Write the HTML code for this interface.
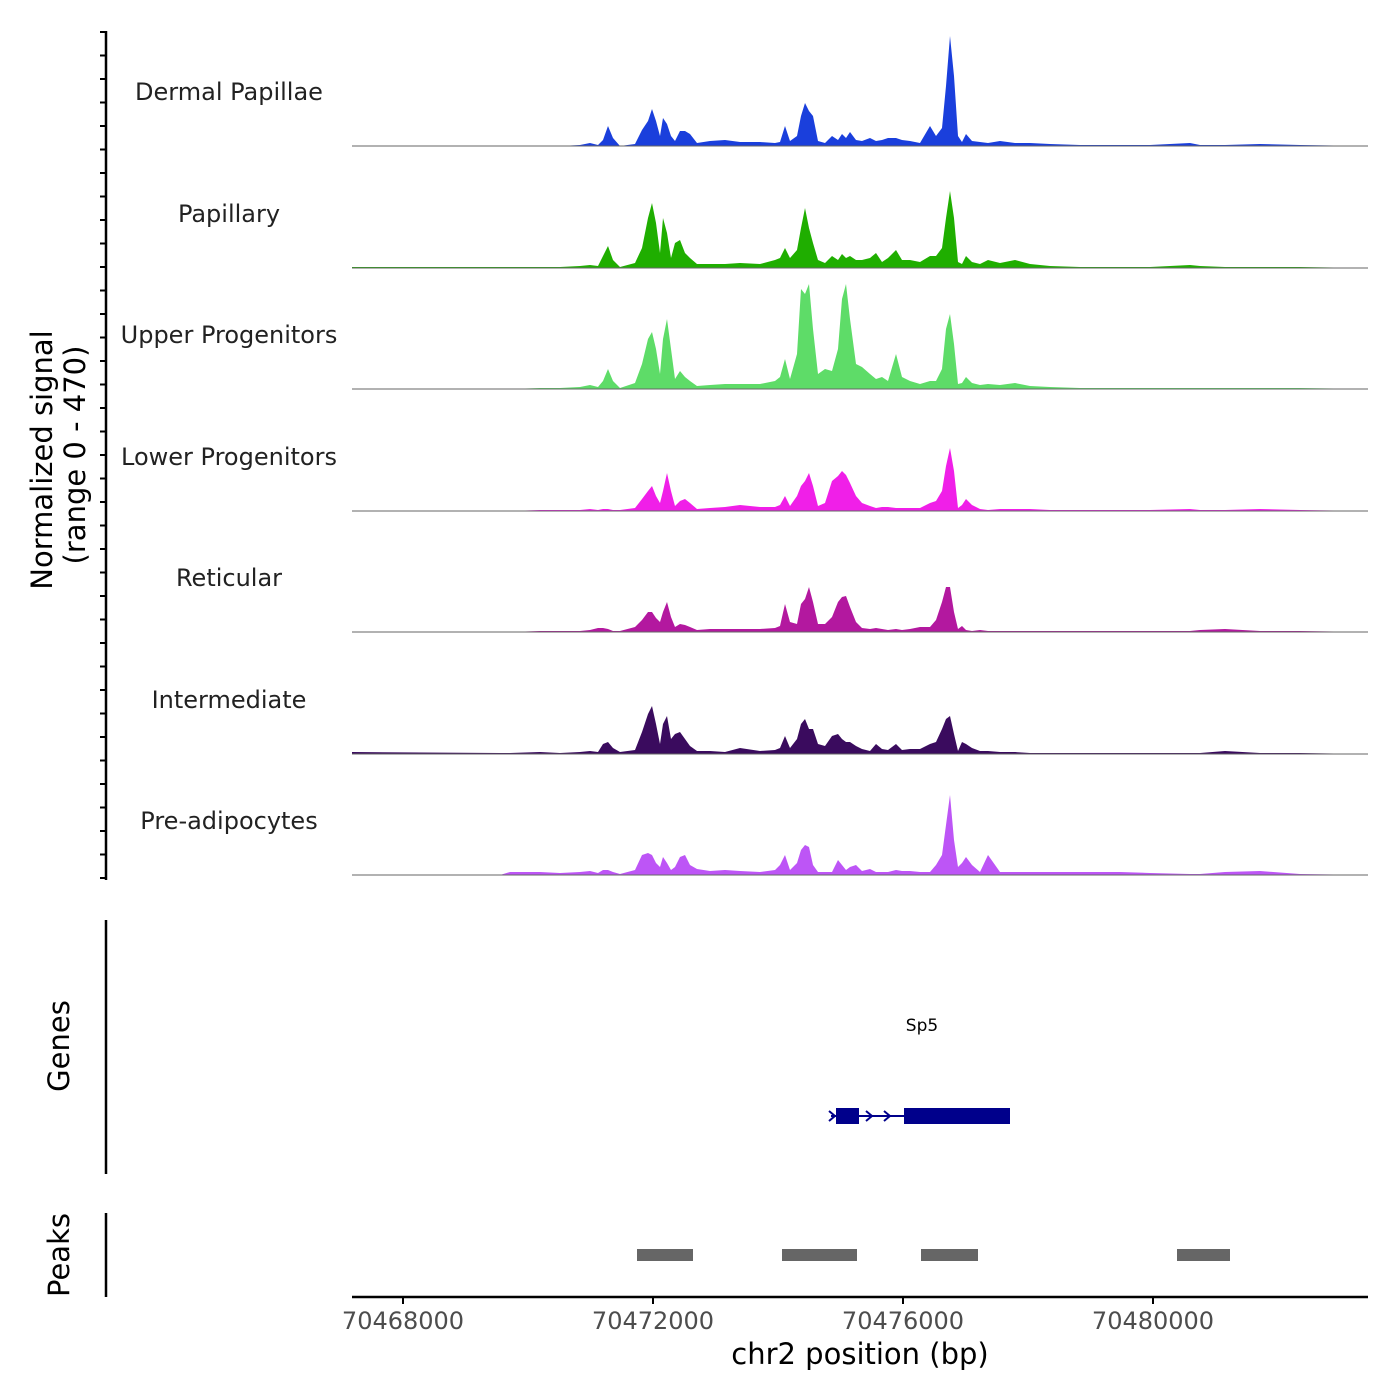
<!DOCTYPE html>
<html><head><meta charset="utf-8">
<style>
html,body{margin:0;padding:0;background:#fff;}
svg{display:block;font-family:"DejaVu Sans","Liberation Sans",sans-serif;}
</style></head>
<body>
<svg id="chart" width="1400" height="1400" viewBox="0 0 1400 1400" xmlns="http://www.w3.org/2000/svg">
<g id="tracks"></g>
<g id="axes"></g>
</svg>
<script>
const positions=[70467184,70469552,70469712,70470192,70470512,70470832,70470992,70471120,70471200,70471280,
70471360,70471472,70471712,70471824,70471920,70471984,70472048,70472112,70472160,70472224,
70472288,70472352,70472432,70472512,70472592,70472704,70472912,70473152,70473392,70473712,
70473952,70474032,70474112,70474192,70474304,70474368,70474432,70474496,70474560,70474640,
70474752,70474864,70474960,70475024,70475088,70475152,70475248,70475344,70475472,70475568,
70475664,70475760,70475888,70475984,70476112,70476272,70476432,70476528,70476624,70476688,
70476752,70476816,70476880,70476944,70477008,70477104,70477232,70477360,70477552,70477792,
70478032,70478352,70478832,70479472,70479952,70480592,70480752,70481152,70481712,70482352,70483440];
const trackNames=["Dermal Papillae","Papillary","Upper Progenitors","Lower Progenitors","Reticular","Intermediate","Pre-adipocytes"];
const trackColors=["#1a3fdc","#1fae00","#5edc68","#f01fe8","#b3189f","#3a0b5e","#bd55f6"];
const dermalPapillae=[0,0,0,0,0,4,12,4,24,80,32,0,8,64,100,148,100,40,112,88,40,20,60,60,48,12,20,24,16,16,12,16,80,20,40,120,172,140,120,20,12,40,24,48,32,56,24,20,32,20,24,32,32,24,20,12,80,40,72,240,440,280,40,16,48,20,16,12,20,12,12,8,4,4,4,12,4,4,8,4,0];
const papillary=[4,4,4,4,4,8,12,8,48,88,32,4,20,80,200,260,180,60,200,140,40,100,112,60,40,16,16,16,20,16,32,40,80,40,72,160,240,160,100,32,20,48,32,56,40,48,32,32,40,60,24,40,72,32,32,24,48,48,80,200,308,200,24,16,48,24,16,32,20,32,16,8,4,4,4,12,8,4,4,4,0];
const upperProgenitors=[0,0,0,4,4,8,16,8,32,80,32,4,24,100,200,228,160,60,200,280,160,40,72,48,32,12,16,20,20,20,32,48,120,40,140,400,380,420,240,60,80,72,160,360,420,280,100,88,60,40,48,32,140,48,32,20,32,32,80,240,300,180,20,24,48,24,16,20,16,24,12,8,4,4,4,4,4,4,4,4,0];
const lowerProgenitors=[0,0,0,4,4,4,8,4,8,8,4,4,12,48,80,100,60,32,80,152,80,20,40,48,32,8,12,16,24,16,16,24,60,20,60,100,120,152,100,20,32,120,140,160,144,112,60,32,20,12,16,16,12,12,12,12,32,40,80,180,252,160,12,24,48,24,8,4,8,8,8,4,4,4,4,8,4,4,8,4,0];
const reticular=[0,0,0,4,4,4,8,16,16,12,4,4,20,48,80,80,56,40,80,120,60,20,32,28,20,8,12,12,12,12,16,24,112,40,32,112,132,180,120,32,32,60,120,140,144,100,40,16,12,16,12,8,12,8,12,20,20,48,120,180,180,80,12,24,8,4,8,4,4,4,4,4,4,4,4,4,8,12,4,4,0];
const intermediate=[8,4,4,8,4,8,12,8,40,48,24,8,16,88,160,192,120,40,120,152,60,80,88,60,32,12,12,8,24,12,16,24,72,24,60,120,140,100,100,40,32,72,80,60,48,48,32,20,12,40,20,16,40,16,20,20,40,48,100,140,152,80,12,48,40,24,12,12,8,8,4,4,4,4,4,4,4,12,4,4,0];
const preAdipocytes=[0,0,12,12,8,12,16,8,20,20,12,4,20,80,88,80,48,32,72,48,20,32,72,80,40,24,16,20,16,12,20,40,80,20,48,100,120,112,40,12,12,12,60,40,20,32,40,16,24,12,12,12,20,16,16,12,12,40,80,200,320,140,32,48,72,40,12,80,12,12,12,12,12,12,8,4,4,12,16,4,0];
const trackValues=[dermalPapillae,papillary,upperProgenitors,lowerProgenitors,reticular,intermediate,preAdipocytes];
const xTicks=[70468000,70472000,70476000,70480000];
const yMax=470;
const peakStarts=[70471744,70474064,70476288,70480384];
const peakEnds=[70472640,70475264,70477200,70481232];
const exonStarts=[70474928,70476016];
const exonEnds=[70475296,70477712];
const geneStart=70474848, geneEnd=70477712;
const arrowPositions=[70474848,70475440,70475728];

const NS="http://www.w3.org/2000/svg";
const X0=352,X1=1368,BP0=70467184,BP1=70483440;
function xs(bp){return X0+(bp-BP0)/(BP1-BP0)*(X1-X0);}
const baselines=[146,268,389,511,632,754,875];
const trackH=117.5;
function ys(v,i){return baselines[i]-v/yMax*trackH;}
function mk(tag,attrs,parent){const e=document.createElementNS(NS,tag);for(const k in attrs)e.setAttribute(k,attrs[k]);parent.appendChild(e);return e;}
const T=document.getElementById('tracks'),A=document.getElementById('axes');

trackValues.forEach((vals,i)=>{
  let d="M"+xs(positions[0])+","+baselines[i];
  positions.forEach((p,j)=>{d+=" L"+xs(p).toFixed(1)+","+ys(vals[j],i).toFixed(1);});
  d+=" L"+xs(positions[positions.length-1])+","+baselines[i]+"Z";
  const a=mk('path',{d:d,fill:trackColors[i]},T);
  
  
  const b=mk('line',{x1:X0,x2:X1,y1:baselines[i],y2:baselines[i],stroke:'#666','stroke-width':1},T);
  
  
  const t=mk('text',{x:229,y:baselines[i]-46,'text-anchor':'middle','font-size':24,fill:'#222'},T);
  t.textContent=trackNames[i];
  
  
});

mk('line',{x1:106,x2:106,y1:31,y2:880,stroke:'#000','stroke-width':2.5},A);
for(let k=0;k<37;k++){const y=32+k*23.5;mk('line',{x1:100,x2:106,y1:y,y2:y,stroke:'#000','stroke-width':2},A);}
const yt=mk('text',{transform:'translate(52,460) rotate(-90)','text-anchor':'middle','font-size':29,fill:'#000'},A);


yt.textContent='Normalized signal';
const yt2=mk('text',{transform:'translate(85,455) rotate(-90)','text-anchor':'middle','font-size':29,fill:'#000'},A);


yt2.textContent='(range 0 - 470)';

mk('line',{x1:106,x2:106,y1:920,y2:1174,stroke:'#000','stroke-width':2.5},A);
const gt=mk('text',{transform:'translate(69,1046) rotate(-90)','text-anchor':'middle','font-size':29,fill:'#000'},A);
gt.textContent='Genes';


const gl=mk('line',{x1:xs(geneStart),x2:xs(geneEnd),y1:1116,y2:1116,stroke:'#00008b','stroke-width':2},A);


exonStarts.forEach((s,j)=>{
  const r=mk('rect',{x:xs(s),y:1108,width:xs(exonEnds[j])-xs(s),height:16,fill:'#00008b'},A);
  
  
});
arrowPositions.forEach(p=>{const x=xs(p)+2;mk('path',{d:`M${x-4},1111 L${x+2},1116 L${x-4},1121`,fill:'none',stroke:'#00008b','stroke-width':2},A);});
const sp=mk('text',{x:922,y:1031,'text-anchor':'middle','font-size':17,fill:'#000'},A);
sp.textContent='Sp5';



mk('line',{x1:106,x2:106,y1:1213,y2:1297,stroke:'#000','stroke-width':2.5},A);
const pt=mk('text',{transform:'translate(69,1255) rotate(-90)','text-anchor':'middle','font-size':29,fill:'#000'},A);
pt.textContent='Peaks';


peakStarts.forEach((s,j)=>{
  const r=mk('rect',{x:xs(s),y:1249,width:xs(peakEnds[j])-xs(s),height:12,fill:'#666'},A);
  
  
});

const xa=mk('line',{x1:X0,x2:X1,y1:1297,y2:1297,stroke:'#000','stroke-width':2.5},A);


xTicks.forEach(t=>{
  mk('line',{x1:xs(t),x2:xs(t),y1:1297,y2:1304,stroke:'#000','stroke-width':2},A);
  const l=mk('text',{x:xs(t),y:1329,'text-anchor':'middle','font-size':24,fill:'#4d4d4d'},A);
  l.textContent=String(t);
  
  
});
const xt=mk('text',{x:860,y:1364,'text-anchor':'middle','font-size':29,fill:'#000'},A);
xt.textContent='chr2 position (bp)';


</script>
</body></html>
